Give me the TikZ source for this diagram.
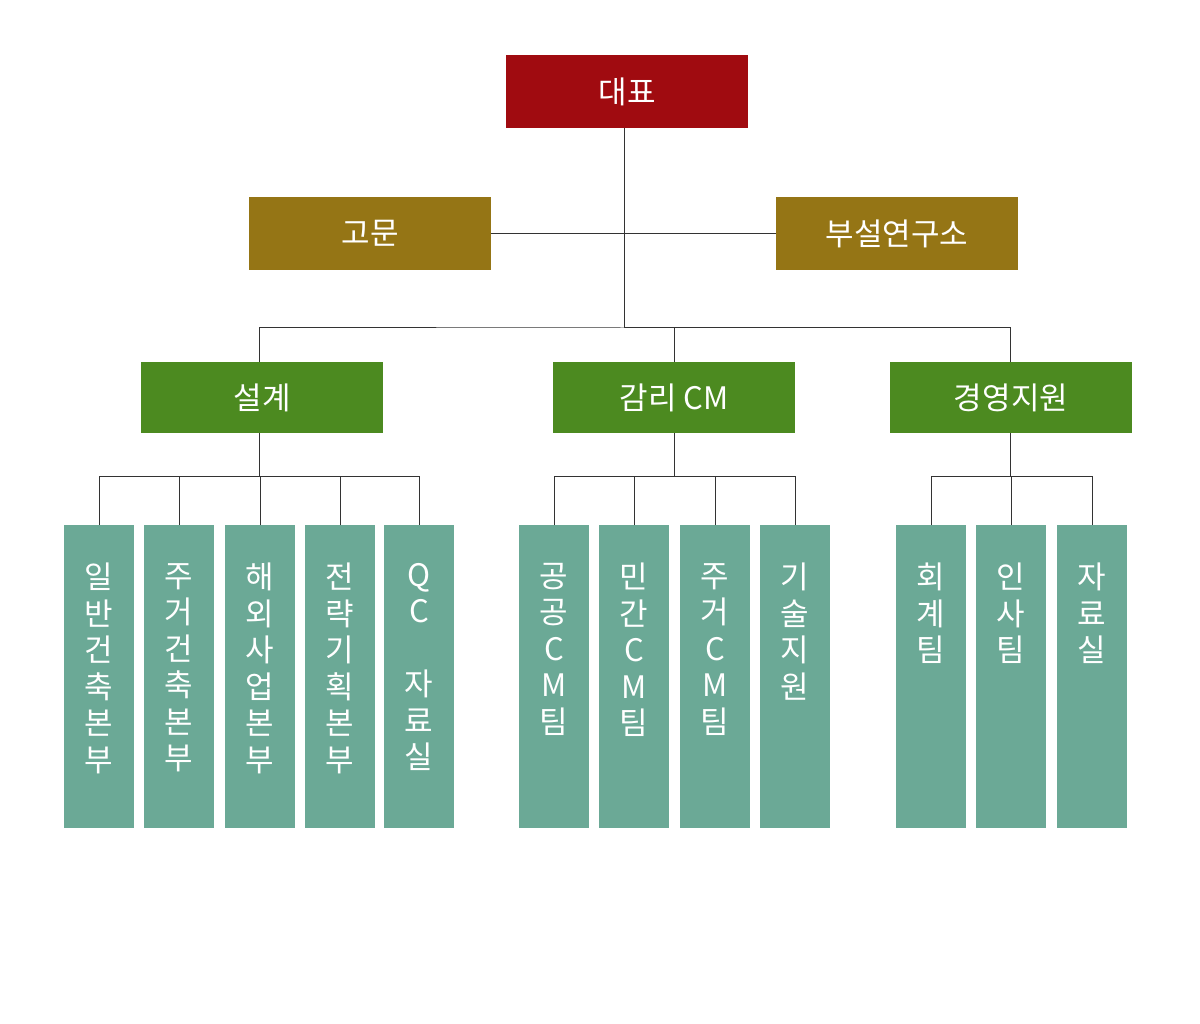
\documentclass[tikz,border=0pt]{standalone}
\usepackage{fontspec}
\setmainfont{Noto Sans CJK KR}
\definecolor{ceored}{RGB}{160,11,16}
\definecolor{advgold}{RGB}{149,117,21}
\definecolor{divgreen}{RGB}{76,138,32}
\definecolor{teamteal}{RGB}{107,169,150}
\definecolor{wiregray}{RGB}{51,51,51}
\tikzset{
  headbox/.style={fill=#1, text=white, minimum width=242pt, minimum height=73pt, inner sep=0pt, font=\fontsize{31}{36}\selectfont},
  teambox/.style={fill=teamteal, minimum width=70pt, minimum height=303pt, inner sep=0pt, anchor=north},
  teamtext/.style={text=white, align=center, anchor=north, inner sep=0pt, font=\fontsize{31}{36.5}\selectfont},
  wire/.style={wiregray, line width=1pt}
}
\begin{document}
\begin{tikzpicture}[x=1pt, y=-1pt]
    \useasboundingbox[fill=white] (0,0) rectangle (1200,1024);

    \node[headbox=ceored] (ceo) at (627,91.5) {대표};
    \node[headbox=advgold] (adv) at (370,233.5) {고문};
    \node[headbox=advgold] (lab) at (897,233.5) {부설연구소};

    \node[headbox=divgreen, minimum height=71pt] (dsg) at (262,397.5) {설계};
    \node[headbox=divgreen, minimum height=71pt] (cm) at (674,397.5) {감리 CM};
    \node[headbox=divgreen, minimum height=71pt] (mgt) at (1011,397.5) {경영지원};

    \foreach \n/\x/\t in {gen/99/{일\\반\\건\\축\\본\\부}, hou/179/{주\\거\\건\\축\\본\\부},
        ovs/260/{해\\외\\사\\업\\본\\부}, stg/340/{전\\략\\기\\획\\본\\부}, qc/419/{Q\\C\\\mbox{}\\자\\료\\실},
        pub/554/{공\\공\\C\\M\\팀}, pvt/634/{민\\간\\C\\M\\팀}, rcm/715/{주\\거\\C\\M\\팀}, tec/795/{기\\술\\지\\원},
        acc/931/{회\\계\\팀}, hr/1011/{인\\사\\팀}, arc/1092/{자\\료\\실}} {
      \node[teambox] (\n) at (\x,525) {};
      \node[teamtext] (\n-t) at ([yshift=-38pt]\n.north) {\t};
    }

    \coordinate (hub) at (624,328);
    \draw[wire] (ceo.south -| hub) -- (hub);
    \draw[wire] (adv.east) -- (lab.west);
    \draw[wire] ([xshift=-3pt]dsg.north) |- (hub) -| (cm.north);
    \draw[wire] (hub) -| ([xshift=-1pt]mgt.north);

    \coordinate (busL) at (259,476);
    \coordinate (busM) at (674,476);
    \coordinate (busR) at (1010,476);
    \draw[wire] ([xshift=-3pt]dsg.south) -- (busL);
    \draw[wire] (cm.south) -- (busM);
    \draw[wire] ([xshift=-1pt]mgt.south) -- (busR);
    \draw[wire] (gen.north) |- (qc.north |- busL) -- (qc.north);
    \draw[wire] (pub.north) |- (tec.north |- busM) -- (tec.north);
    \draw[wire] (acc.north) |- (arc.north |- busR) -- (arc.north);
    \foreach \n in {hou,ovs,stg,pvt,rcm,hr}
      \draw[wire] (\n.north) -- (\n.north |- busL);
\end{tikzpicture}
\end{document}
